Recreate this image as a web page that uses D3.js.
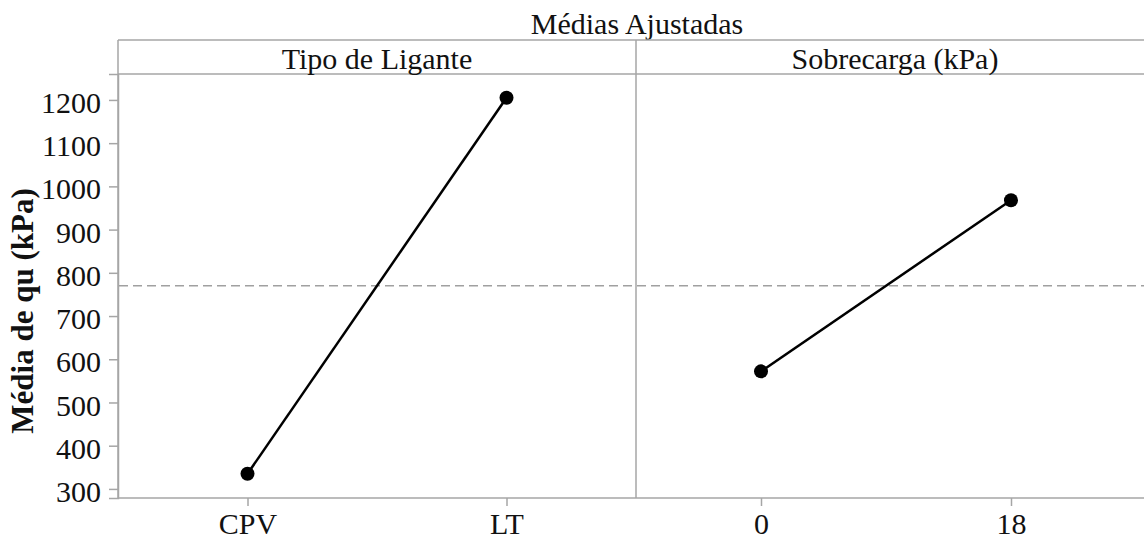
<!DOCTYPE html>
<html>
<head>
<meta charset="utf-8">
<script src="https://cdn.jsdelivr.net/npm/d3@7"></script>
<style>
  html, body { margin: 0; padding: 0; background: #fff; }
  svg { display: block; font-family: "Liberation Serif", "Times New Roman", serif; }
</style>
</head>
<body>
<svg id="chart" width="1144" height="538"></svg>
<script>
// Fitted means of qu (kPa) for each factor
const title = "Médias Ajustadas";
const yLabel = "Média de qu (kPa)";
const panelTitles = ["Tipo de Ligante", "Sobrecarga (kPa)"];
const ligante = ["CPV", "LT"];
const liganteMeans = [335, 1205];
const sobrecarga = ["0", "18"];
const sobrecargaMeans = [572, 968];
const grandMean = 770;
const yTicks = [300, 400, 500, 600, 700, 800, 900, 1000, 1100, 1200];

const svg = d3.select("#chart");
const frameColor = "#a6a6a6";

const frameLeft = 118, frameMid = 636, frameRight = 1154;
const frameTop = 40, stripBottom = 74, plotBottom = 498;

const y = d3.scaleLinear().domain([279, 1260]).range([plotBottom, stripBottom]);

const panels = [
  { name: panelTitles[0], cats: ligante, vals: liganteMeans, x0: frameLeft, x1: frameMid,
    x: d3.scalePoint().domain(ligante).range([frameLeft, frameMid]).padding(0.5) },
  { name: panelTitles[1], cats: sobrecarga, vals: sobrecargaMeans, x0: frameMid, x1: frameRight,
    x: d3.scalePoint().domain(sobrecarga).range([frameMid, 1136]).padding(0.5) }
];

// Title
svg.append("text")
  .attr("x", 637).attr("y", 34)
  .attr("text-anchor", "middle")
  .attr("font-size", 30)
  .attr("fill", "#111")
  .text(title);

// Frame: outer box, strip separator, panel divider
const frame = svg.append("g").attr("stroke", frameColor).attr("stroke-width", 1.5).attr("fill", "none");
frame.append("line").attr("x1", frameLeft).attr("x2", frameRight).attr("y1", frameTop).attr("y2", frameTop);
frame.append("line").attr("x1", frameLeft).attr("x2", frameRight).attr("y1", stripBottom).attr("y2", stripBottom);
frame.append("line").attr("x1", frameLeft).attr("x2", frameLeft).attr("y1", frameTop).attr("y2", plotBottom);
frame.append("line").attr("x1", frameMid).attr("x2", frameMid).attr("y1", frameTop).attr("y2", plotBottom);

// Y axis
const yAxis = svg.append("g")
  .attr("transform", `translate(${frameLeft},0)`)
  .call(d3.axisLeft(y).tickValues(yTicks).tickSize(9).tickPadding(8).tickFormat(d3.format("d")));
yAxis.select(".domain").attr("stroke", frameColor).attr("stroke-width", 1.5);
yAxis.selectAll(".tick line").attr("stroke", frameColor).attr("stroke-width", 1.5);
yAxis.selectAll(".tick text")
  .attr("font-family", "Liberation Serif, serif")
  .attr("font-size", 30)
  .attr("fill", "#111")
  .attr("dy", "0.42em");

// Y label
svg.append("text")
  .attr("transform", `translate(33,311) rotate(-90)`)
  .attr("text-anchor", "middle")
  .attr("font-size", 31)
  .attr("font-weight", "bold")
  .attr("fill", "#111")
  .text(yLabel);

panels.forEach(p => {
  // strip label
  svg.append("text")
    .attr("x", (p.x0 + p.x1) / 2).attr("y", 69)
    .attr("text-anchor", "middle")
    .attr("font-size", 30)
    .attr("fill", "#111")
    .text(p.name);

  // x axis
  const ax = svg.append("g")
    .attr("transform", `translate(0,${plotBottom})`)
    .call(d3.axisBottom(p.x).tickSize(8).tickPadding(8).tickSizeOuter(0));
  ax.select(".domain").attr("stroke", frameColor).attr("stroke-width", 1.5)
    .attr("d", `M${p.x0},0H${p.x1}`);
  ax.selectAll(".tick line").attr("stroke", frameColor).attr("stroke-width", 1.5);
  ax.selectAll(".tick text")
    .attr("font-family", "Liberation Serif, serif")
    .attr("font-size", 30)
    .attr("fill", "#111")
    .attr("dy", "0.68em");

  // grand mean reference line
  svg.append("line")
    .attr("x1", p.x0 + 1).attr("x2", p.x1)
    .attr("y1", y(grandMean)).attr("y2", y(grandMean))
    .attr("stroke", "#a0a0a0").attr("stroke-width", 1.5)
    .attr("stroke-dasharray", "9,5");

  const pts = p.cats.map((c, i) => [p.x(c), y(p.vals[i])]);
  svg.append("path")
    .attr("d", d3.line()(pts))
    .attr("fill", "none").attr("stroke", "#000").attr("stroke-width", 2.5);
  svg.append("g").selectAll("circle").data(pts).join("circle")
    .attr("cx", d => d[0]).attr("cy", d => d[1]).attr("r", 7).attr("fill", "#000");
});
</script>
</body>
</html>
